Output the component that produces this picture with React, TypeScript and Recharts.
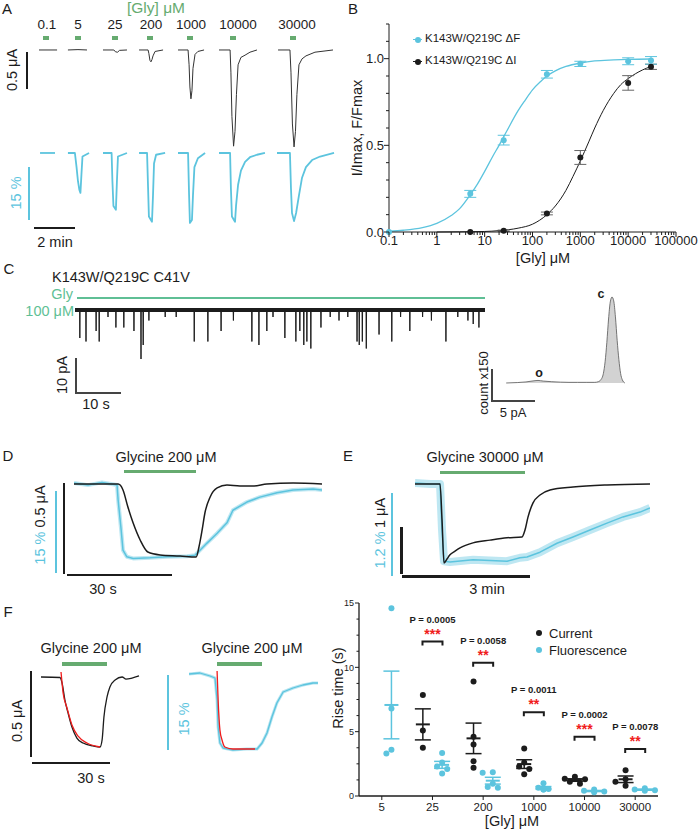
import {
  LineChart, Line, XAxis, YAxis, ComposedChart, Scatter, ErrorBar,
  AreaChart, Area, ReferenceLine,
} from 'recharts'

type Pt = [number, number]

const FONT = '"Liberation Sans", Arial, Helvetica, sans-serif'
const INK = '#1c1c1c'
const CYAN = '#5cc4de'
const GREEN = '#66ab70'
const TEAL = '#5fbf95'
const RED = '#f01c1c'

// ---------- A: concentration steps; current (min, µA), fluorescence (min, %)
const concLabels = ['0.1', '5', '25', '200', '1000', '10000', '30000']
const currentA: Pt[][] = [
  [[0.05, 0], [0.93, 0]],
  [[1.46, 0], [1.95, 0.005], [2.39, 0]],
  [[3.17, 0], [3.7, 0], [3.78, -0.025], [3.88, -0.03], [3.98, -0.005], [4.34, 0]],
  [[4.93, 0], [5.37, 0], [5.41, -0.05], [5.46, -0.14], [5.51, -0.16], [5.56, -0.13], [5.61, -0.08], [5.71, -0.02], [6.1, 0]],
  [[6.83, 0], [7.32, 0], [7.37, -0.2], [7.41, -0.5], [7.46, -0.66], [7.51, -0.55], [7.56, -0.25], [7.66, -0.06], [7.8, -0.02], [8.1, 0]],
  [[8.83, 0], [9.37, 0], [9.41, -0.3], [9.46, -0.9], [9.54, -1.3], [9.61, -1.1], [9.68, -0.6], [9.76, -0.2], [9.9, -0.1], [10.1, -0.07], [10.34, -0.03], [10.68, 0]],
  [[11.71, 0], [12.29, 0], [12.34, -0.3], [12.41, -1.0], [12.49, -1.31], [12.56, -1.1], [12.63, -0.6], [12.73, -0.2], [12.88, -0.12], [13.07, -0.08], [13.51, -0.03], [14.39, 0]],
]
const fluorA: Pt[][] = [
  [[0.1, 0], [0.83, 0]],
  [[1.46, 0], [1.8, 0], [1.88, -4], [1.95, -8], [2.02, -10.5], [2.07, -11.3], [2.12, -6], [2.17, -1], [2.49, 0]],
  [[3.17, 0], [3.59, 0], [3.63, -8], [3.68, -15], [3.8, -16.1], [3.85, -8], [3.9, -1], [4.34, 0]],
  [[4.93, 0], [5.32, 0], [5.37, -10], [5.41, -18], [5.56, -19.5], [5.61, -12], [5.66, -3], [5.76, -0.5], [6.2, 0]],
  [[6.83, 0], [7.32, 0], [7.37, -12], [7.41, -19.8], [7.51, -19], [7.56, -12], [7.63, -4], [7.8, -1.5], [8.15, 0]],
  [[8.83, 0], [9.37, 0], [9.41, -10], [9.46, -18], [9.61, -19.5], [9.66, -15], [9.76, -9], [9.9, -5], [10.1, -2.5], [10.34, -1.2], [10.68, -0.5], [11.07, 0]],
  [[11.66, 0], [12.29, 0], [12.34, -10], [12.39, -17], [12.49, -19.3], [12.59, -17], [12.73, -12], [12.88, -7], [13.07, -4], [13.37, -2], [13.76, -1], [14.44, 0]],
]
const aLabelX = [47, 78, 115, 151, 191, 238, 297]
const aBarX = [46, 78, 115, 150, 190, 233, 293]

// ---------- B: dose response
const bFConc = [0.1, 5, 25, 200, 1000, 10000, 30000]
const bFMean = [0.0, 0.22, 0.53, 0.91, 0.97, 0.985, 0.99]
const bFSem = [0, 0.02, 0.028, 0.022, 0.015, 0.02, 0.022]
const bIConc = [5, 25, 200, 1000, 10000, 30000]
const bIMean = [0.0, 0.007, 0.107, 0.43, 0.86, 0.953]
const bISem = [0, 0.004, 0.008, 0.04, 0.042, 0.015]
const bFitFx = [0.1, 0.2, 0.5, 1, 2, 3, 5, 7, 10, 15, 20, 30, 50, 70, 100, 150, 200, 300, 500, 1000, 2000, 5000, 10000, 30000]
const bFitF = [0.005, 0.01, 0.025, 0.05, 0.095, 0.135, 0.215, 0.275, 0.35, 0.44, 0.5, 0.59, 0.7, 0.76, 0.82, 0.87, 0.9, 0.93, 0.955, 0.975, 0.987, 0.993, 0.996, 0.998]
const bFitIx = [1, 3, 10, 20, 50, 100, 200, 300, 500, 700, 1000, 1500, 2000, 3000, 5000, 7000, 10000, 20000, 30000]
const bFitI = [0, 0.001, 0.003, 0.008, 0.022, 0.045, 0.1, 0.15, 0.24, 0.32, 0.41, 0.52, 0.6, 0.7, 0.8, 0.85, 0.885, 0.935, 0.955]
const logDecades = [0.1, 1, 10, 100, 1000, 10000]
const logLabels = ['0.1', '1', '10', '100', '1000', '10000', '100000']
const minorSteps = [1, 2, 3, 4, 5, 6, 7, 8, 9]
const bYTicks = [0, 0.1, 0.2, 0.3, 0.4, 0.5, 0.6, 0.7, 0.8, 0.9, 1.0, 1.1, 1.2]

// ---------- C: single channel (s, pA) and amplitude histogram (pA, count)
const spikeT = [1.1, 2.5, 4.8, 5.5, 7.5, 9.3, 11.1, 13.4, 15.0, 15.5, 16.8, 20.5, 23.0, 27.1, 30.2, 33.2, 36.0, 40.2, 41.8, 43.6, 45.0, 47.7, 50.2, 51.1, 52.0, 52.7, 53.6, 55.9, 58.0, 60.0, 62.0, 64.1, 64.6, 65.3, 66.2, 69.1, 72.0, 74.0, 76.1, 79.0, 81.0, 84.3, 87.0, 89.3, 90.5, 91.8]
const spikeAmp = [-8, -9, -6, -9, -2, -5, -5, -6, -14, -10, -3, -2, -2, -9, -9, -6, -3, -9, -10, -6, -2, -8, -9, -6, -10, -9, -11, -5, -2, -3, -2, -9, -10, -9, -11, -7, -9, -2, -6, -2, -3, -9, -2, -3, -4, -5]
const histPA = [-12.3, -11, -10, -9.3, -8.6, -8, -7, -6, -5, -4, -3, -2, -1.6, -1.3, -1.0, -0.8, -0.6, -0.4, -0.2, 0, 0.2, 0.4, 0.6, 0.8, 1.0, 1.2, 1.5]
const histCount = [0, 2, 5, 9, 12, 9, 6, 4, 3, 3, 3, 3, 6, 15, 45, 100, 190, 300, 380, 403, 385, 310, 200, 110, 45, 15, 0]

// ---------- D: 200 µM (s, µA / %)
const curD: Pt[] = [[0, 0], [12.6, 0], [14.0, -0.033], [15.4, -0.128], [16.9, -0.217], [18.9, -0.311], [21.1, -0.378], [24.6, -0.394], [30.3, -0.4], [34.9, -0.406], [35.7, -0.35], [36.6, -0.256], [37.4, -0.161], [38.9, -0.072], [40.9, -0.022], [43.7, -0.006], [47.4, -0.011], [51.1, -0.011], [55.1, 0], [62.6, 0.006], [70.9, 0]]
const fluD: Pt[] = [[0, 0.18], [4, -0.2], [8, 0.3], [12.3, -0.18], [12.6, -2.9], [13.4, -7.9], [14.0, -12.1], [15.1, -13.3], [16.9, -13.6], [21.7, -13.5], [26.6, -13.3], [32.3, -13.2], [34.6, -13.0], [36.0, -12.1], [38.0, -10.8], [40.9, -9.0], [43.7, -7.1], [45.4, -4.8], [49.4, -3.3], [53.1, -2.4], [58.0, -1.6], [62.6, -1.1], [68.3, -0.9], [70.9, -1.1]]

// ---------- E: 30000 µM (s, µA / %)
const curE: Pt[] = [[0, 0], [35.2, 0], [38.0, -0.78], [40.8, -1.72], [45.0, -1.63], [49.2, -1.54], [56.3, -1.46], [63.3, -1.39], [81.6, -1.28], [105.5, -1.22], [129.4, -1.17], [150.5, -1.15], [154.7, -1.0], [158.9, -0.72], [166.0, -0.41], [175.8, -0.24], [189.9, -0.13], [222.2, -0.065], [270.0, -0.02], [330.5, 0]]
const fluE: Pt[] = [[0, 0], [21.1, -0.014], [35.2, -0.014], [38.0, -0.68], [40.8, -1.13], [49.2, -1.14], [81.6, -1.11], [129.4, -1.13], [147.7, -1.08], [157.5, -1.07], [175.8, -1.0], [199.7, -0.87], [222.2, -0.78], [246.1, -0.68], [270.0, -0.58], [292.5, -0.49], [316.5, -0.42], [330.5, -0.36]]

// ---------- F left: 200 µM with exponential fits (s, µA / %)
const curF: Pt[] = [[0, 0], [7.3, -0.003], [8.1, -0.035], [9.2, -0.134], [10.4, -0.209], [11.9, -0.291], [13.8, -0.355], [16.2, -0.384], [20.0, -0.401], [22.7, -0.407], [23.5, -0.366], [24.2, -0.233], [25.4, -0.116], [26.5, -0.058], [28.5, -0.017], [31.2, 0], [32.7, -0.012], [35.0, -0.006], [37.7, 0.006]]
const curFit: Pt[] = [[7.7, 0.029], [8.1, -0.035], [8.5, -0.093], [10.0, -0.18], [11.9, -0.279], [14.2, -0.343], [17.7, -0.384], [22.7, -0.407]]
const fluF: Pt[] = [[0, 0], [4.2, 0.2], [8.1, -0.4], [10.0, -0.8], [10.8, -5.2], [11.2, -10.6], [11.9, -13.8], [13.1, -14.8], [16.9, -15.2], [22.3, -15.0], [26.2, -15.0], [28.1, -13.8], [30.0, -11.8], [31.9, -8.6], [33.8, -5.8], [36.2, -3.6], [40.0, -2.8], [43.8, -2.2], [47.7, -1.8], [49.6, -1.8]]
const fluFit: Pt[] = [[10.8, 0.6], [11.2, -5.2], [11.9, -11.2], [12.7, -13.2], [13.8, -14.6], [16.9, -15.0], [25.4, -15.0]]

// ---------- F right: rise times (s)
const riseCats = ['5', '25', '200', '1000', '10000', '30000']
const riseCurrent: number[][] = [[], [7.85, 5.1, 3.75], [8.9, 4.6, 4.0, 2.7, 2.2], [3.7, 2.6, 2.3, 2.1, 1.7], [1.5, 1.35, 1.3, 1.1, 0.95], [2.0, 1.3, 1.1, 0.8]]
const riseFluor: number[][] = [[14.6, 6.8, 3.6, 3.3], [3.35, 2.6, 2.3, 2.1, 1.75], [1.85, 1.8, 0.95, 0.7, 0.65], [1.0, 0.65, 0.55, 0.5, 0.5], [0.5, 0.4, 0.35, 0.3], [0.6, 0.45, 0.5, 0.4]]
const sigCat = [1, 2, 3, 4, 5]
const sigLevel = [12.0, 10.35, 6.5, 4.6, 3.65]
const sigP = ['P = 0.0005', 'P = 0.0058', 'P = 0.0011', 'P = 0.0002', 'P = 0.0078']
const sigStars = ['***', '**', '**', '***', '**']
const riseYTicks = [0, 1.25, 2.5, 3.75, 5, 6.25, 7.5, 8.75, 10, 11.25, 12.5, 13.75, 15]

// ---------- derived tables
const rows = (pts: Pt[]) => pts.map(([t, v]) => ({ t, v }))

const spikeTrace: Pt[] = (() => {
  const ev = spikeT.map((t, k) => [t, spikeAmp[k]] as Pt).sort((a, b) => a[0] - b[0])
  const out: Pt[] = [[0, 0]]
  ev.forEach(([t, a]) => out.push([t - 0.06, 0], [t, a], [t + 0.06, 0]))
  out.push([93.2, 0])
  return out
})()

const logTicks = logDecades.flatMap(d => minorSteps.map(m => d * m)).concat(100000)
const bFRows = bFConc.map((x, k) => ({ x, y: bFMean[k], e: bFSem[k] }))
const bIRows = bIConc.map((x, k) => ({ x, y: bIMean[k], e: bISem[k] }))
const bFitFRows = bFitFx.map((x, k) => ({ x, y: bFitF[k] }))
const bFitIRows = bFitIx.map((x, k) => ({ x, y: bFitI[k] }))
const histRows = histPA.map((x, k) => ({ t: x, v: histCount[k] }))

const SHIFT = 0.19
function swarm(vals: number[], center: number) {
  const placed: { x: number; y: number }[] = []
  ;[...vals].sort((a, b) => b - a).forEach(v => {
    let spot = center
    for (const k of [0, -1, 1, -2, 2]) {
      const x = center + k * 0.1
      if (placed.every(p => Math.hypot((p.x - x) * 50.8, (p.y - v) * 12.9) >= 6)) { spot = x; break }
    }
    placed.push({ x: spot, y: v })
  })
  return placed
}
function meanRows(groups: number[][], shift: number) {
  return groups.flatMap((vals, i) => {
    if (!vals.length) return []
    const m = vals.reduce((s, v) => s + v, 0) / vals.length
    const sd = Math.sqrt(vals.reduce((s, v) => s + (v - m) ** 2, 0) / (vals.length - 1))
    return [{ x: i + shift, y: m, e: sd / Math.sqrt(vals.length) }]
  })
}
const curDots = riseCurrent.flatMap((vals, i) => swarm(vals, i - SHIFT))
const fluDots = riseFluor.flatMap((vals, i) => swarm(vals, i + SHIFT))
const curMeans = meanRows(riseCurrent, -SHIFT)
const fluMeans = meanRows(riseFluor, SHIFT)
const sigRows = sigCat.map((x, k) => ({ x, y: sigLevel[k], p: sigP[k], stars: sigStars[k] }))

// ---------- small layout helpers
function Label({ x, y, size = 14.5, color = INK, rot = false, weight = 400, anchor = 'middle', children }: {
  x: number; y: number; size?: number; color?: string; rot?: boolean; weight?: number; anchor?: string; children: React.ReactNode
}) {
  const tx = anchor === 'start' ? '0%' : anchor === 'end' ? '-100%' : '-50%'
  return (
    <div style={{
      position: 'absolute', left: x, top: y, transform: `translate(${tx}, -50%)${rot ? ' rotate(-90deg)' : ''}`,
      fontSize: size, color, fontWeight: weight, lineHeight: 1, whiteSpace: 'nowrap',
    }}>{children}</div>
  )
}
function Rule({ x, y, w, h, c = INK }: { x: number; y: number; w: number; h: number; c?: string }) {
  return <div style={{ position: 'absolute', left: x, top: y, width: w, height: h, background: c }} />
}
function Dot({ x, y, c }: { x: number; y: number; c: string }) {
  return <div style={{ position: 'absolute', left: x - 3, top: y - 3, width: 6, height: 6, borderRadius: 3, background: c }} />
}

interface Trace { pts: Pt[]; axis: string; color: string; width: number; opacity?: number; curve?: 'linear' | 'monotone' }
function TraceChart({ left, top, width, height, xMax, domains, traces }: {
  left: number; top: number; width: number; height: number; xMax: number
  domains: Record<string, [number, number]>; traces: Trace[]
}) {
  return (
    <div style={{ position: 'absolute', left, top }}>
      <LineChart width={width} height={height} margin={{ top: 0, right: 0, bottom: 0, left: 0 }}>
        <XAxis type="number" dataKey="t" domain={[0, xMax]} hide allowDataOverflow />
        {Object.entries(domains).map(([id, d]) => (
          <YAxis key={id} yAxisId={id} type="number" domain={d} hide allowDataOverflow />
        ))}
        {traces.map((tr, k) => (
          <Line key={k} data={rows(tr.pts)} dataKey="v" yAxisId={tr.axis} type={tr.curve ?? 'linear'}
            stroke={tr.color} strokeWidth={tr.width} strokeOpacity={tr.opacity ?? 1}
            dot={false} activeDot={false} isAnimationActive={false} strokeLinejoin="round" />
        ))}
      </LineChart>
    </div>
  )
}

const LogTick = (p: any) => {
  const v = p.payload.value
  const lg = Math.log10(v)
  const major = Math.abs(lg - Math.round(lg)) < 1e-9
  return (
    <g>
      <line x1={p.x} x2={p.x} y1={p.y} y2={p.y + (major ? 5 : 3)} stroke={INK} />
      {major && <text x={p.x} y={p.y + 13} textAnchor="middle" fontSize={13} fill={INK} fontFamily={FONT}>{logLabels[Math.round(lg) + 1]}</text>}
    </g>
  )
}
const BYTick = (p: any) => {
  const v = p.payload.value
  const major = Math.abs(v * 2 - Math.round(v * 2)) < 1e-9
  return (
    <g>
      <line x1={p.x - (major ? 5 : 3)} x2={p.x} y1={p.y} y2={p.y} stroke={INK} />
      {major && <text x={p.x - 5} y={p.y + 4.5} textAnchor="end" fontSize={13} fill={INK} fontFamily={FONT}>{v.toFixed(1)}</text>}
    </g>
  )
}
const CatTick = (p: any) => (
  <g>
    <line x1={p.x} x2={p.x} y1={p.y} y2={p.y + 4} stroke={INK} />
    <text x={p.x} y={p.y + 15} textAnchor="middle" fontSize={11.5} fill={INK} fontFamily={FONT}>{riseCats[p.payload.value]}</text>
  </g>
)
const RiseYTick = (p: any) => {
  const v = p.payload.value
  const major = v % 5 === 0
  return (
    <g>
      <line x1={p.x - (major ? 4 : 2.5)} x2={p.x} y1={p.y} y2={p.y} stroke={INK} />
      {major && <text x={p.x - 5} y={p.y + 3.2} textAnchor="end" fontSize={9} fill={INK} fontFamily={FONT}>{v}</text>}
    </g>
  )
}
const dotShape = (c: string) => (p: any) => <circle cx={p.cx} cy={p.cy} r={3} fill={c} />
const meanShape = (c: string) => (p: any) => <line x1={p.cx - 7} x2={p.cx + 7} y1={p.cy} y2={p.cy} stroke={c} strokeWidth={2} />
const bracketShape = (p: any) => (
  <g>
    <path d={`M${p.cx - 10},${p.cy + 4}V${p.cy}H${p.cx + 10}V${p.cy + 4}`} fill="none" stroke={INK} strokeWidth={2} />
    <text x={p.cx} y={p.cy - 3} textAnchor="middle" fontSize={14} fontWeight={700} fill={RED} fontFamily={FONT}>{p.payload.stars}</text>
    <text x={p.cx} y={p.cy - 19} textAnchor="middle" fontSize={9.5} fontWeight={700} fill={INK} fontFamily={FONT}>{p.payload.p}</text>
  </g>
)

export default function App() {
  return (
    <div style={{ position: 'absolute', left: 0, top: 0, width: 699, height: 829, background: '#fff', fontFamily: FONT, color: INK, overflow: 'hidden' }}>
      {/* A */}
      <Label x={7} y={8} size={15}>A</Label>
      <Label x={156} y={8} size={15.5} color={GREEN}>[Gly] μM</Label>
      {concLabels.map((c, k) => <Label key={c} x={aLabelX[k]} y={25} size={13.5}>{c}</Label>)}
      {aBarX.map((x, k) => <Rule key={k} x={x - 3} y={36} w={6} h={4} c={GREEN} />)}
      <TraceChart left={38} top={30} width={300} height={210} xMax={14.634}
        domains={{ i: [-2.568, 0.27], f: [-24.65, 34.84] }}
        traces={[
          ...currentA.map(p => ({ pts: p, axis: 'i', color: '#333', width: 1 })),
          ...fluorA.map(p => ({ pts: p, axis: 'f', color: CYAN, width: 1.8 })),
        ]} />
      <Rule x={26} y={52} w={2} h={37} />
      <Rule x={28} y={167} w={2} h={53} c={CYAN} />
      <Rule x={34} y={227} w={41} h={2} />
      <Label x={12} y={70} rot>0.5 μA</Label>
      <Label x={16} y={193} rot color={CYAN}>15 %</Label>
      <Label x={55} y={242}>2 min</Label>

      {/* B */}
      <Label x={353} y={8} size={15}>B</Label>
      <div style={{ position: 'absolute', left: 350, top: 0 }}>
        <ComposedChart width={349} height={270} margin={{ top: 24, right: 23, bottom: 0, left: 0 }}>
          <XAxis type="number" dataKey="x" scale="log" domain={[0.1, 100000]} ticks={logTicks} interval={0}
            tick={LogTick} tickLine={false} tickSize={0} tickMargin={0} height={38} axisLine={{ stroke: INK }} />
          <YAxis type="number" dataKey="y" domain={[0, 1.2]} ticks={bYTicks} interval={0}
            tick={BYTick} tickLine={false} tickSize={0} tickMargin={0} width={39} axisLine={{ stroke: INK }} />
          <Line data={bFitFRows} dataKey="y" type="monotone" stroke={CYAN} strokeWidth={1.3} dot={false} activeDot={false} isAnimationActive={false} />
          <Line data={bFitIRows} dataKey="y" type="monotone" stroke={INK} strokeWidth={1} dot={false} activeDot={false} isAnimationActive={false} />
          <Scatter data={bIRows} shape={dotShape(INK)} isAnimationActive={false}>
            <ErrorBar dataKey="e" direction="y" width={6} stroke="#666" strokeWidth={1} />
          </Scatter>
          <Scatter data={bFRows} shape={dotShape(CYAN)} isAnimationActive={false}>
            <ErrorBar dataKey="e" direction="y" width={6} stroke={CYAN} strokeWidth={1} />
          </Scatter>
        </ComposedChart>
      </div>
      <Label x={357} y={128} rot>I/Imax, F/Fmax</Label>
      <Label x={543} y={258}>[Gly] μM</Label>
      <Rule x={413} y={39} w={9} h={1.3} c={CYAN} />
      <Dot x={418} y={39.5} c={CYAN} />
      <Label x={425} y={39} size={11.5} anchor="start">K143W/Q219C ΔF</Label>
      <Rule x={413} y={61} w={9} h={1.3} c={INK} />
      <Dot x={418} y={61.5} c={INK} />
      <Label x={425} y={61} size={11.5} anchor="start">K143W/Q219C ΔI</Label>

      {/* C */}
      <Label x={9} y={268} size={15}>C</Label>
      <Label x={52} y={277} anchor="start">K143W/Q219C C41V</Label>
      <Label x={73} y={294} anchor="end" color={TEAL}>Gly</Label>
      <Label x={74} y={311} anchor="end" color={TEAL}>100 μM</Label>
      <Rule x={77} y={297} w={408} h={2} c={TEAL} />
      <div style={{ position: 'absolute', left: 75, top: 295 }}>
        <LineChart width={410} height={70} margin={{ top: 0, right: 0, bottom: 0, left: 0 }}>
          <XAxis type="number" dataKey="t" domain={[0, 93.18]} hide allowDataOverflow />
          <YAxis type="number" domain={[-15.71, 4.29]} hide allowDataOverflow />
          <ReferenceLine y={0} stroke={INK} strokeWidth={4} />
          <Line data={rows(spikeTrace)} dataKey="v" type="linear" stroke={INK} strokeWidth={1} dot={false} activeDot={false} isAnimationActive={false} />
        </LineChart>
      </div>
      <Rule x={75} y={358} w={1.5} h={35} c="#444" />
      <Rule x={75} y={392} w={46} h={1.5} c="#444" />
      <Label x={62} y={375} rot>10 pA</Label>
      <Label x={96} y={404}>10 s</Label>
      <div style={{ position: 'absolute', left: 500, top: 290 }}>
        <AreaChart width={130} height={95} margin={{ top: 0, right: 0, bottom: 0, left: 0 }}>
          <XAxis type="number" dataKey="t" domain={[-13.02, 2.093]} hide allowDataOverflow />
          <YAxis type="number" domain={[-9.4, 436]} hide allowDataOverflow />
          <Area data={histRows} dataKey="v" type="monotone" stroke="#555" strokeWidth={0.8} fill="#d2d2d2" fillOpacity={1} isAnimationActive={false} dot={false} activeDot={false} />
        </AreaChart>
      </div>
      <Label x={601} y={294} size={12.5} weight={700}>c</Label>
      <Label x={539} y={373} size={12.5} weight={700}>o</Label>
      <Rule x={491} y={369} w={1.5} h={33} c="#444" />
      <Rule x={491} y={400} w={44} h={1.5} c="#444" />
      <Label x={483} y={383} size={13} rot>count x150</Label>
      <Label x={513} y={412} size={13}>5 pA</Label>

      {/* D */}
      <Label x={8} y={455} size={15}>D</Label>
      <Label x={166} y={457}>Glycine 200 μM</Label>
      <Rule x={124} y={470} w={72} h={3} c={GREEN} />
      <TraceChart left={74} top={474} width={248} height={96} xMax={70.857}
        domains={{ i: [-0.4778, 0.0556], f: [-15.72, 1.83] }}
        traces={[
          { pts: fluD, axis: 'f', color: CYAN, width: 4, opacity: 0.4 },
          { pts: fluD, axis: 'f', color: CYAN, width: 1.5 },
          { pts: curD, axis: 'i', color: INK, width: 1.5, curve: 'monotone' },
        ]} />
      <Rule x={63} y={483} w={2} h={91} />
      <Rule x={55} y={491} w={2} h={82} c={CYAN} />
      <Rule x={67} y={574} w={105} h={2} />
      <Label x={40} y={525} rot><span style={{ color: CYAN }}>15 %</span> 0.5 μA</Label>
      <Label x={103} y={589}>30 s</Label>

      {/* E */}
      <Label x={348} y={455} size={15}>E</Label>
      <Label x={485} y={457}>Glycine 30000 μM</Label>
      <Rule x={440} y={471} w={85} h={3} c={GREEN} />
      <TraceChart left={415} top={474} width={235} height={96} xMax={330.5}
        domains={{ i: [-1.8696, 0.2174], f: [-1.257, 0.13] }}
        traces={[
          { pts: fluE, axis: 'f', color: CYAN, width: 8, opacity: 0.4 },
          { pts: fluE, axis: 'f', color: CYAN, width: 1.5 },
          { pts: curE, axis: 'i', color: INK, width: 1.5, curve: 'monotone' },
        ]} />
      <Rule x={400} y={527} w={3} h={47} />
      <Rule x={391} y={493} w={2} h={83} c={CYAN} />
      <Rule x={402} y={575} w={128} h={3} />
      <Label x={380} y={513} rot>1 μA</Label>
      <Label x={380} y={550} rot color={CYAN}>1.2 %</Label>
      <Label x={487} y={589}>3 min</Label>

      {/* F left */}
      <Label x={8} y={611} size={15}>F</Label>
      <Label x={91} y={648}>Glycine 200 μM</Label>
      <Label x={252} y={648}>Glycine 200 μM</Label>
      <Rule x={62} y={662} w={45} h={4} c={GREEN} />
      <Rule x={217} y={662} w={45} h={4} c={GREEN} />
      <TraceChart left={41} top={665} width={100} height={90} xMax={38.46}
        domains={{ i: [-0.4535, 0.0698] }}
        traces={[
          { pts: curF, axis: 'i', color: INK, width: 1.3, curve: 'monotone' },
          { pts: curFit, axis: 'i', color: RED, width: 1.3, curve: 'monotone' },
        ]} />
      <TraceChart left={189} top={665} width={130} height={90} xMax={50}
        domains={{ f: [-16.2, 1.8] }}
        traces={[
          { pts: fluF, axis: 'f', color: CYAN, width: 3, opacity: 0.45 },
          { pts: fluF, axis: 'f', color: CYAN, width: 1.3 },
          { pts: fluFit, axis: 'f', color: RED, width: 1.3, curve: 'monotone' },
        ]} />
      <Rule x={30} y={671} w={2} h={86} />
      <Rule x={32} y={762} w={78} h={2} />
      <Rule x={167} y={675} w={2} h={75} c={CYAN} />
      <Label x={17} y={721} rot>0.5 μA</Label>
      <Label x={91} y={778}>30 s</Label>
      <Label x={184} y={719} rot color={CYAN}>15 %</Label>

      {/* F right */}
      <div style={{ position: 'absolute', left: 330, top: 595 }}>
        <ComposedChart width={369} height={234} margin={{ top: 8, right: 41, bottom: 0, left: 0 }}>
          <XAxis type="number" dataKey="x" domain={[-0.45, 5.45]} ticks={[0, 1, 2, 3, 4, 5]} interval={0}
            tick={CatTick} tickLine={false} tickSize={0} tickMargin={0} height={33} axisLine={{ stroke: INK, strokeWidth: 1.3 }} />
          <YAxis type="number" dataKey="y" domain={[0, 15]} ticks={riseYTicks} interval={0}
            tick={RiseYTick} tickLine={false} tickSize={0} tickMargin={0} width={29} axisLine={{ stroke: INK, strokeWidth: 1.3 }} />
          <Scatter data={curDots} shape={dotShape(INK)} isAnimationActive={false} />
          <Scatter data={fluDots} shape={dotShape(CYAN)} isAnimationActive={false} />
          <Scatter data={curMeans} shape={meanShape(INK)} isAnimationActive={false}>
            <ErrorBar dataKey="e" direction="y" width={8} stroke={INK} strokeWidth={1.5} />
          </Scatter>
          <Scatter data={fluMeans} shape={meanShape(CYAN)} isAnimationActive={false}>
            <ErrorBar dataKey="e" direction="y" width={8} stroke={CYAN} strokeWidth={1.5} />
          </Scatter>
          <Scatter data={sigRows} shape={bracketShape} isAnimationActive={false} />
        </ComposedChart>
      </div>
      <Label x={338} y={688} rot>Rise time (s)</Label>
      <Label x={512} y={821}>[Gly] μM</Label>
      <Dot x={539} y={633} c={INK} />
      <Label x={549} y={633} size={13} anchor="start">Current</Label>
      <Dot x={539} y={650} c={CYAN} />
      <Label x={549} y={650} size={13} anchor="start">Fluorescence</Label>
    </div>
  )
}
